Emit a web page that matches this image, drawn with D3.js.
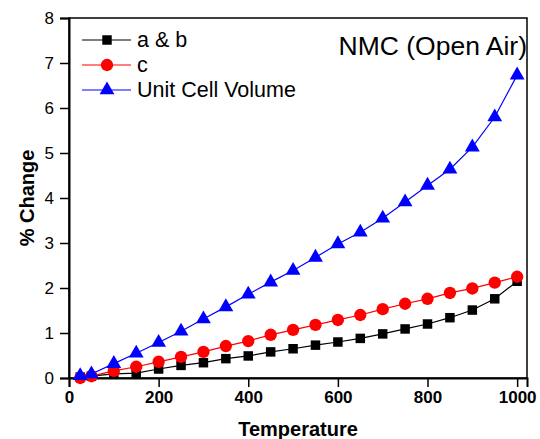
<!DOCTYPE html>
<html>
<head>
<meta charset="utf-8">
<script src="https://cdn.jsdelivr.net/npm/d3@7"></script>
<style>
html,body{margin:0;padding:0;background:#fff;}
svg{display:block;font-family:Arial,"Liberation Sans",sans-serif;}
</style>
</head>
<body>
<svg id="chart" width="540" height="439"></svg>
<script>
const temperature = [25,50,100,150,200,250,300,350,400,450,500,550,600,650,700,750,800,850,900,950,1000];
const abValues = [0.02,0.04,0.09,0.11,0.2,0.28,0.34,0.43,0.49,0.58,0.65,0.73,0.8,0.88,0.98,1.09,1.2,1.34,1.51,1.76,2.15];
const cValues = [0.0,0.04,0.16,0.25,0.36,0.47,0.58,0.71,0.82,0.96,1.07,1.18,1.29,1.4,1.53,1.65,1.76,1.89,1.99,2.12,2.25];
const volumeValues = [0.05,0.09,0.32,0.55,0.79,1.04,1.31,1.58,1.86,2.13,2.39,2.68,2.98,3.24,3.55,3.91,4.28,4.64,5.13,5.8,6.73];
const xTicks = [0,200,400,600,800,1000];
const yTicks = [0,1,2,3,4,5,6,7,8];
const seriesNames = ["a & b","c","Unit Cell Volume"];
const seriesColors = ["#000000","#ff0000","#0000ff"];
const seriesShapes = [d3.symbolSquare, d3.symbolCircle, d3.symbolTriangle];
const seriesSizes = [90, 120, 95];
const chartTitle = "NMC (Open Air)";
const xLabel = "Temperature";
const yLabel = "% Change";

const svg = d3.select("#chart");
const pLeft = 69, pRight = 527, pTop = 18, pBottom = 378;
const x = d3.scaleLinear().domain([0, 1022]).range([pLeft, pRight]);
const y = d3.scaleLinear().domain([0, 8]).range([pBottom, pTop]);

// frame
svg.append("rect").attr("x", pLeft).attr("y", pTop).attr("width", pRight-pLeft).attr("height", pBottom-pTop)
  .attr("fill","none").attr("stroke","#000").attr("stroke-width",1.5);

// axes
const xAxis = svg.append("g").attr("transform",`translate(0,${pBottom})`)
  .call(d3.axisBottom(x).tickValues(xTicks).tickSize(9).tickPadding(4).tickFormat(d3.format("d")));
xAxis.select(".domain").attr("stroke-width",2);
xAxis.selectAll(".tick line").attr("stroke-width",1.5);
xAxis.selectAll("text").attr("font-size",17).attr("font-weight","bold").attr("fill","#000").attr("font-family","Arial, 'Liberation Sans', sans-serif");

const yAxis = svg.append("g").attr("transform",`translate(${pLeft},0)`)
  .call(d3.axisLeft(y).tickValues(yTicks).tickSize(9).tickPadding(6).tickFormat(d3.format("d")));
yAxis.select(".domain").attr("stroke-width",2);
yAxis.selectAll(".tick line").attr("stroke-width",1.5);
yAxis.selectAll("text").attr("font-size",17).attr("fill","#000").attr("font-family","Arial, 'Liberation Sans', sans-serif");

// axis titles
svg.append("text").attr("x", (pLeft+pRight)/2).attr("y", 436).attr("text-anchor","middle")
  .attr("font-size",20).attr("font-weight","bold").text(xLabel);
svg.append("text").attr("transform",`translate(34,${(pTop+pBottom)/2}) rotate(-90)`).attr("text-anchor","middle")
  .attr("font-size",20).attr("font-weight","bold").text(yLabel);

// series
const allSeries = [abValues, cValues, volumeValues];
const line = d3.line().x(d=>x(d[0])).y(d=>y(d[1]));
allSeries.forEach((vals,i)=>{
  const pts = temperature.map((t,j)=>[t, vals[j]]);
  svg.append("path").datum(pts).attr("d", line).attr("fill","none")
    .attr("stroke", seriesColors[i]).attr("stroke-width",1.2);
});
allSeries.forEach((vals,i)=>{
  const pts = temperature.map((t,j)=>[t, vals[j]]);
  const sym = d3.symbol().type(seriesShapes[i]).size(seriesSizes[i]);
  svg.append("g").selectAll("path").data(pts).join("path")
    .attr("transform", d=>`translate(${x(d[0])},${y(d[1])})`)
    .attr("d", sym).attr("fill", seriesColors[i]);
});

// legend
const legendY = [40, 65, 90];
seriesNames.forEach((name,i)=>{
  const g = svg.append("g");
  g.append("line").attr("x1",82).attr("x2",131).attr("y1",legendY[i]).attr("y2",legendY[i])
    .attr("stroke",seriesColors[i]).attr("stroke-width",1.2);
  g.append("path").attr("transform",`translate(107,${legendY[i]})`)
    .attr("d", d3.symbol().type(seriesShapes[i]).size(seriesSizes[i])()).attr("fill",seriesColors[i]);
  g.append("text").attr("x",137).attr("y",legendY[i]+7).attr("font-size",21.5).text(name);
});

// title
svg.append("text").attr("x",527).attr("y",55).attr("text-anchor","end").attr("font-size",26.5).text(chartTitle);
</script>
</body>
</html>
